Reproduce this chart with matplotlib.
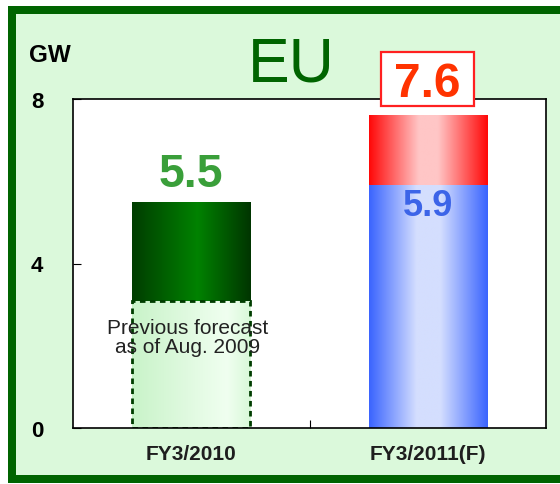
import numpy as np
import matplotlib
matplotlib.use('Agg')
import matplotlib.pyplot as plt
from matplotlib.patches import Rectangle
from matplotlib.colors import LinearSegmentedColormap

# ---- data ----
categories = ['FY3/2010', 'FY3/2011(F)']
results_fy2010 = [5.5]          # GW, FY3/2010 actual
prev_forecast_fy2010 = [3.1]    # GW, previous forecast as of Aug. 2009
base_fy2011 = [5.9]             # GW, FY3/2011 base
total_fy2011 = [7.6]            # GW, FY3/2011 forecast total
yticks = [0, 4, 8]
title = 'EU'
unit = 'GW'
prev_note = 'Previous forecast\nas of Aug. 2009'

plt.rcParams['font.family'] = ['Liberation Sans', 'DejaVu Sans']

W, H = 560, 485
fig = plt.figure(figsize=(W / 100, H / 100), dpi=100)
fig.patch.set_facecolor('white')

# panel with dark green border
panel = Rectangle((12 / W, 1 - 480 / H), (575 - 12) / W, (480 - 11) / H,
                  transform=fig.transFigure, facecolor='#dbf9db',
                  edgecolor='#006400', linewidth=8 * 0.72, zorder=0)
fig.add_artist(panel)

ax = fig.add_axes([73 / W, 1 - 429 / H, 473 / W, 329 / H])
ax.set_facecolor('white')


def gradient_fill(ax, patch, stops, z):
    cmap = LinearSegmentedColormap.from_list('g', stops)
    bb = patch.get_bbox()
    img = np.linspace(0, 1, 256).reshape(1, -1)
    im = ax.imshow(img, cmap=cmap, extent=(bb.x0, bb.x1, bb.y0, bb.y1),
                   aspect='auto', interpolation='bilinear', zorder=z)
    im.set_clip_path(patch)


x = np.arange(len(categories))
w = 0.5

# FY3/2010 actual (dark green)
g = ax.bar(x[0], results_fy2010[0], width=w, color='none', linewidth=0, zorder=1)[0]
gradient_fill(ax, g, [(0, '#003d00'), (0.55, '#008200'), (1, '#003500')], 1)

# previous forecast (light green, dashed outline)
p = ax.bar(x[0], prev_forecast_fy2010[0], width=w, color='none', linewidth=0, zorder=2)[0]
gradient_fill(ax, p, [(0, '#c9f3c9'), (0.8, '#f0fff0'), (1, '#d8f8d8')], 2)
ax.bar(x[0], prev_forecast_fy2010[0], width=w, fill=False, edgecolor='#003d00',
       linewidth=2.0, linestyle=(0, (2, 1.6)), zorder=3)

# FY3/2011 base (blue)
b = ax.bar(x[1], base_fy2011[0], width=w, color='none', linewidth=0, zorder=1)[0]
gradient_fill(ax, b, [(0, '#3a64ff'), (0.4, '#d4defe'), (0.6, '#d4defe'), (1, '#3a64ff')], 1)

# FY3/2011 increment (red)
r = ax.bar(x[1], total_fy2011[0] - base_fy2011[0], bottom=base_fy2011[0], width=w,
           color='none', linewidth=0, zorder=1)[0]
gradient_fill(ax, r, [(0, '#ff0808'), (0.42, '#ffc6c6'), (0.58, '#ffc6c6'), (1, '#ff0808')], 1)

ax.set_xlim(-0.5, 1.5)
ax.set_ylim(yticks[0], yticks[-1])

for s in ax.spines.values():
    s.set_linewidth(1.2)
    s.set_color('black')
    s.set_zorder(5)

ax.set_yticks(yticks)
ax.set_yticklabels([str(t) for t in yticks], fontsize=16, fontweight='bold')
ax.tick_params(axis='y', direction='in', length=6, width=0.8, pad=21.5)
ax.set_xticks(x)
ax.set_xticklabels(categories, fontsize=15, fontweight='bold', color='#1e1e1e')
ax.tick_params(axis='x', which='major', length=0, pad=11.5)
ax.set_xticks([0.5], minor=True)
ax.tick_params(axis='x', which='minor', direction='in', length=6, width=0.8)

# value labels
ax.annotate(f'{results_fy2010[0]:.1f}', xy=(x[0], results_fy2010[0]), xytext=(0, 11.5),
            textcoords='offset points', ha='center', va='baseline',
            fontsize=33.5, fontweight='bold', color='#3a9f3a', zorder=6)
ax.annotate(f'{base_fy2011[0]:.1f}', xy=(x[1], base_fy2011[0]), xytext=(0, -21),
            textcoords='offset points', ha='center', va='baseline',
            fontsize=26, fontweight='bold', color='#3c64e8', zorder=6)
box = Rectangle((x[1] - 0.197, total_fy2011[0] + 0.23), 0.394, 1.31,
                facecolor='white', edgecolor='#ff2020', linewidth=1.6,
                clip_on=False, zorder=6)
ax.add_patch(box)
ax.annotate(f'{total_fy2011[0]:.1f}', xy=(x[1], total_fy2011[0]), xytext=(0, 13.7),
            textcoords='offset points', ha='center', va='baseline',
            fontsize=34.5, fontweight='bold', color='#ff3300', zorder=7,
            annotation_clip=False)

ax.text(x[0] - 0.015, 2.22, prev_note, ha='center', va='center', fontsize=15,
        color='#222222', linespacing=1.0, zorder=6)

fig.text(291.5 / W, 1 - 82 / H, title, fontsize=45, color='#006400',
         ha='center', va='baseline')
fig.text(29 / W, 1 - 62 / H, unit, fontsize=17.5, fontweight='bold',
         ha='left', va='baseline')

fig.savefig('out.png', dpi=100, facecolor=fig.get_facecolor())
